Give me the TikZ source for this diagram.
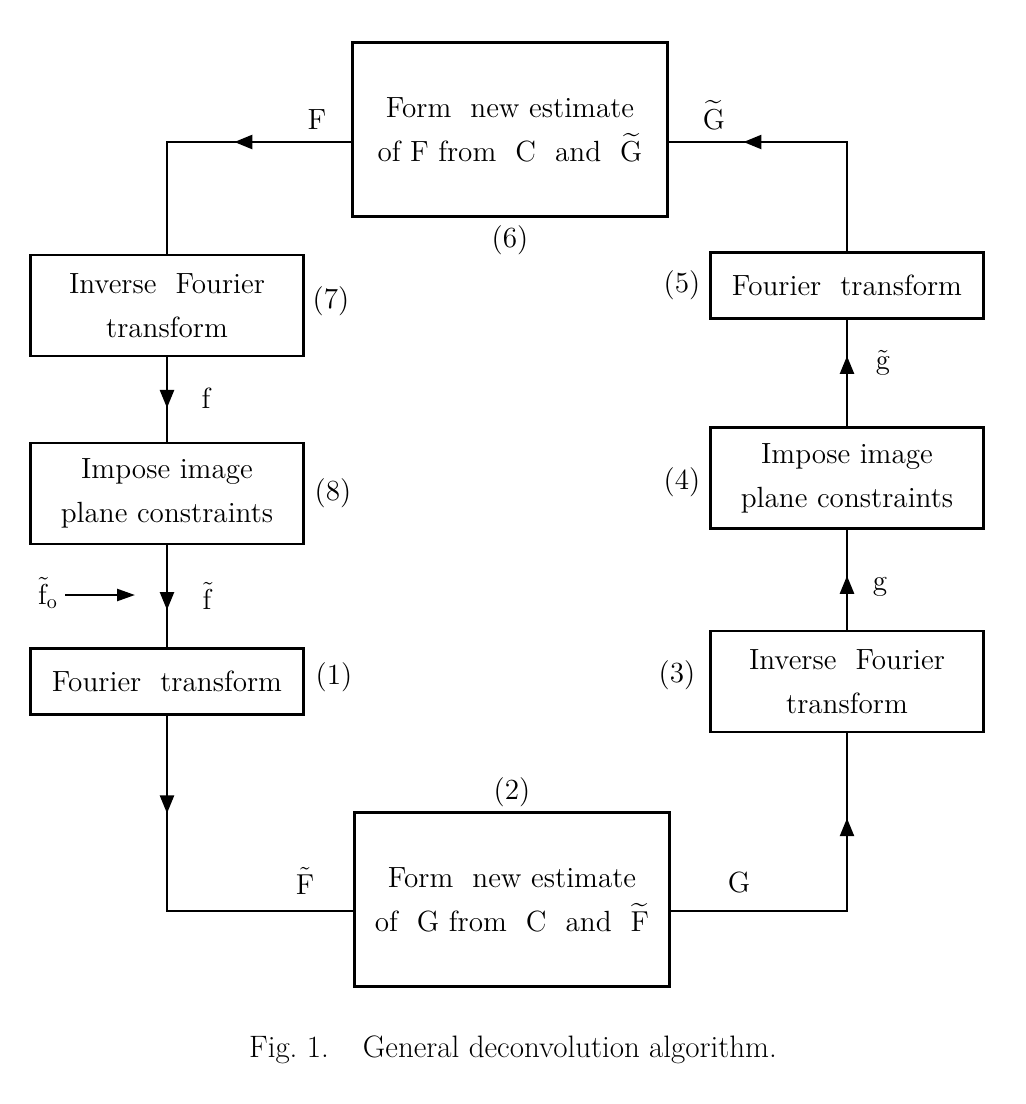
\documentclass[tikz,border=0pt]{standalone}
\usepackage{amsmath}
\usepackage{amssymb}
\usepackage{tikz}
\usetikzlibrary{positioning,arrows.meta,decorations.markings}

\begin{document}
\begin{tikzpicture}[x=0.5pt, y=-0.5pt, line width=1.2pt, font=\fontsize{14.6}{22}\selectfont]

        % Styles
        \tikzstyle{block} = [draw, rectangle, minimum width=136.5pt, minimum height=50.5pt, inner sep=0pt, align=center]
        \tikzstyle{thinblock} = [block, minimum height=33pt]
        \tikzstyle{bigblock} = [block, minimum width=157.5pt, minimum height=87pt]
        \tikzstyle{tag} = [inner sep=1pt]
        \tikzstyle{flow} = [line width=1.2pt]
        \tikzset{midarrow/.style={flow, postaction={decorate}, decoration={markings, mark=at position #1 with {\arrow{Triangle[length=9pt, width=7pt]}}}}}

        \useasboundingbox (0,0) rectangle (1025,1104);

        % Nodes
        \node [bigblock] (est6) at (510,129.5) {Form\ \ new estimate\\of F from\ \ C\ \ and\ \ $\widetilde{\mathrm{G}}$};
        \node [block] (ift7) at (167,305.5) {Inverse\ \ Fourier\\transform};
        \node [block] (ipc8) at (167,493.5) {Impose image\\plane constraints};
        \node [thinblock] (ft1) at (167,681.5) {Fourier\ \ transform};
        \node [bigblock] (est2) at (512,899.5) {Form\ \ new estimate\\of\ \ G from\ \ C\ \ and\ \ $\widetilde{\mathrm{F}}$};
        \node [block] (ift3) at (847,681.5) {Inverse\ \ Fourier\\transform};
        \node [block] (ipc4) at (847,478) {Impose image\\plane constraints};
        \node [thinblock] (ft5) at (847,285.5) {Fourier\ \ transform};

        % Step numbers
        \node [tag] (n6) at (510,240) {(6)};
        \node [tag] (n7) at (331,301) {(7)};
        \node [tag] (n8) at (333,493) {(8)};
        \node [tag] (n1) at (334,677) {(1)};
        \node [tag] (n2) at (512,792) {(2)};
        \node [tag] (n3) at (677,675) {(3)};
        \node [tag] (n4) at (682,482) {(4)};
        \node [tag] (n5) at (682,285) {(5)};

        % Signal labels
        \node [tag] (lF) at (317,120) {F};
        \node [tag] (lGt) at (714,115) {$\widetilde{\mathrm{G}}$};
        \node [tag] (lf) at (206,398) {f};
        \node [tag] (lft) at (208,596) {$\tilde{\mathrm{f}}$};
        \node [tag] (lFt) at (305,881) {$\tilde{\mathrm{F}}$};
        \node [tag] (lG) at (739,883) {G};
        \node [tag] (lg) at (880,587) {g};
        \node [tag] (lgt) at (883,363) {$\tilde{\mathrm{g}}$};
        \node [tag] (lf0) at (48,593) {$\tilde{\mathrm{f}}_{\mathrm{o}}$};
        \coordinate (f0end) at (135,595);

        % Arrows
        \draw [midarrow=0.395] ([yshift=-6.25pt]est6.west) -| (ift7.north);
        \draw [midarrow=0.6] (ift7.south) -- (ipc8.north);
        \draw [midarrow=0.635] (ipc8.south) -- (ft1.north);
        \draw [midarrow=0.256] (ft1.south) |- ([yshift=-5.75pt]est2.west);
        \draw [midarrow=0.76] ([yshift=-5.75pt]est2.east) -| (ift3.south);
        \draw [midarrow=0.54] (ift3.north) -- (ipc4.south);
        \draw [midarrow=0.66] (ipc4.north) -- (ft5.south);
        \draw [midarrow=0.74] (ft5.north) |- ([yshift=-6.25pt]est6.east);
        \draw [flow, -{Triangle[length=9pt, width=6pt]}] ([xshift=2pt]lf0.east |- f0end) -- (f0end);

        % Caption
        \node (caption) at (513,1050) {\fontsize{15.5}{18}\selectfont Fig.~1.\hspace{1.1em}General deconvolution algorithm.};

\end{tikzpicture}
\end{document}
